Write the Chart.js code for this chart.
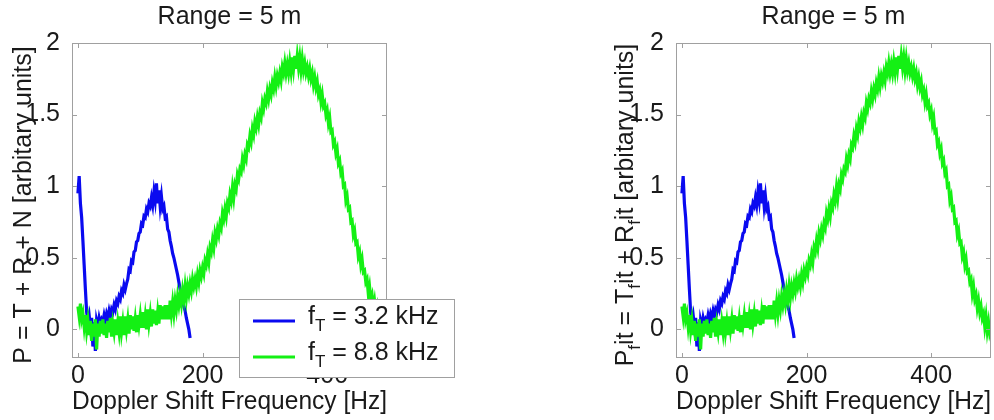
<!DOCTYPE html>
<html>
<head>
<meta charset="utf-8">
<script src="https://cdn.jsdelivr.net/npm/chart.js@4.4.1/dist/chart.umd.min.js"></script>
<style>
  html, body { margin: 0; padding: 0; background: #fff; }
  #wrap { position: relative; width: 994px; height: 420px; }
  .panel { position: absolute; top: 0; width: 497px; height: 420px; }
</style>
</head>
<body>
<div id="wrap">
  <div class="panel" style="left:0"><canvas id="leftChart"></canvas></div>
  <div class="panel" style="left:497px"><canvas id="rightChart"></canvas></div>
</div>
<script>
// spectra sampled every 2 Hz, starting at 0 Hz
const freqStep = 2;

// f_T = 3.2 kHz (0 .. 180 Hz)
const blueValues = [
  0.95, 1.07, 0.88, 0.78, 0.62, 0.45, 0.28, 0.12, 0.06, 0.10,
  0.02, 0.08, -0.12, 0.05, -0.15, 0.06, 0.02, 0.08, 0.04, 0.07,
  0.05, 0.10, 0.06, 0.11, 0.08, 0.13, 0.09, 0.14, 0.12, 0.17,
  0.14, 0.20, 0.18, 0.23, 0.21, 0.27, 0.25, 0.31, 0.28, 0.32,
  0.35, 0.42, 0.41, 0.48, 0.47, 0.54, 0.55, 0.61, 0.62, 0.67,
  0.68, 0.74, 0.73, 0.79, 0.78, 0.84, 0.82, 0.88, 0.86, 0.92,
  0.87, 0.96, 0.90, 1.02, 0.88, 0.97, 0.86, 0.93, 0.84, 0.86,
  0.78, 0.79, 0.70, 0.68, 0.62, 0.58, 0.53, 0.50, 0.46, 0.42,
  0.38, 0.33, 0.28, 0.24, 0.21, 0.16, 0.13, 0.08, 0.04, 0.00,
  -0.06
];

// f_T = 8.8 kHz (0 .. 498 Hz)
const greenValues = [
  0.16, 0.09, 0.18, 0.07, 0.11, 0.02, 0.10, -0.01, 0.06, -0.04,
  0.06, -0.08, 0.04, -0.05, 0.07, -0.14, 0.04, -0.05, 0.06, -0.03,
  0.07, -0.04, 0.04, -0.06, 0.06, -0.02, 0.08, -0.05, 0.04, -0.02,
  0.07, -0.04, 0.05, -0.02, 0.09, -0.02, 0.05, -0.04, 0.09, 0.00,
  0.07, -0.03, 0.10, 0.00, 0.09, -0.01, 0.07, -0.02, 0.10, 0.03,
  0.10, 0.01, 0.12, 0.01, 0.09, 0.00, 0.14, 0.04, 0.11, 0.02,
  0.14, 0.04, 0.13, 0.03, 0.12, 0.04, 0.17, 0.07, 0.16, 0.07,
  0.17, 0.07, 0.17, 0.07, 0.20, 0.11, 0.19, 0.11, 0.20, 0.14,
  0.23, 0.17, 0.24, 0.18, 0.27, 0.21, 0.30, 0.22, 0.30, 0.25,
  0.32, 0.27, 0.35, 0.30, 0.35, 0.30, 0.38, 0.33, 0.41, 0.37,
  0.43, 0.39, 0.48, 0.45, 0.52, 0.47, 0.57, 0.54, 0.62, 0.57,
  0.67, 0.63, 0.70, 0.66, 0.74, 0.71, 0.81, 0.77, 0.84, 0.79,
  0.88, 0.85, 0.94, 0.90, 0.99, 0.92, 1.01, 0.98, 1.08, 1.05,
  1.12, 1.10, 1.19, 1.15, 1.22, 1.19, 1.29, 1.27, 1.35, 1.31,
  1.40, 1.36, 1.45, 1.41, 1.48, 1.43, 1.51, 1.48, 1.58, 1.54,
  1.61, 1.58, 1.66, 1.61, 1.68, 1.64, 1.72, 1.68, 1.76, 1.70,
  1.77, 1.73, 1.79, 1.74, 1.83, 1.79, 1.86, 1.79, 1.85, 1.79,
  1.87, 1.80, 1.90, 1.82, 1.91, 1.82, 1.91, 1.83, 1.90, 1.81,
  1.89, 1.81, 1.86, 1.79, 1.83, 1.77, 1.82, 1.75, 1.79, 1.71,
  1.76, 1.69, 1.73, 1.64, 1.67, 1.59, 1.64, 1.56, 1.58, 1.50,
  1.53, 1.44, 1.48, 1.38, 1.39, 1.29, 1.31, 1.23, 1.26, 1.16,
  1.18, 1.09, 1.11, 1.00, 1.01, 0.90, 0.93, 0.84, 0.85, 0.75,
  0.76, 0.66, 0.69, 0.60, 0.61, 0.51, 0.54, 0.45, 0.49, 0.40,
  0.41, 0.33, 0.35, 0.25, 0.30, 0.21, 0.24, 0.15, 0.20, 0.12,
  0.16, 0.08, 0.11, 0.02, 0.09, -0.01, 0.05, -0.03, 0.00, -0.07
];

const xTicks = [0, 200, 400];
const yTicks = [0, 0.5, 1, 1.5, 2];
const legendValues = ["3.2 kHz", "8.8 kHz"];
const titleText = "Range = 5 m";
const xTitle = "Doppler Shift Frequency [Hz]";

const BLUE = "#0a0af0";
const GREEN = "#14f014";
const TEXT = "#1a1a1a";
const FRAME = "#a0a0a0";
const FAMILY = "'Liberation Sans', Arial, Helvetica, sans-serif";
const FONT_SIZE = 25;
const mainFont = FONT_SIZE + "px " + FAMILY;
const subFont = "17px " + FAMILY;

function toPoints(values) {
  return values.map((v, i) => ({ x: i * freqStep, y: v }));
}

// text made of plain / subscript pieces
function drawRich(ctx, pieces, x, y, centered) {
  let total = 0;
  pieces.forEach(p => {
    ctx.font = p.sub ? subFont : mainFont;
    p.w = ctx.measureText(p.t).width;
    total += p.w;
  });
  let pos = centered ? x - total / 2 : x;
  pieces.forEach(p => {
    ctx.font = p.sub ? subFont : mainFont;
    ctx.fillText(p.t, pos, y + (p.sub ? 7 : 0));
    pos += p.w;
  });
}

const framePlugin = {
  id: "frame",
  afterDatasetsDraw(chart) {
    const { ctx, chartArea: a, scales: { x, y } } = chart;
    ctx.save();
    ctx.strokeStyle = FRAME;
    ctx.lineWidth = 1;
    ctx.strokeRect(Math.round(a.left) + 0.5, Math.round(a.top) + 0.5,
      Math.round(a.width) - 1, Math.round(a.height) - 1);
    ctx.beginPath();
    xTicks.forEach(v => {
      const px = Math.round(x.getPixelForValue(v)) + 0.5;
      ctx.moveTo(px, a.bottom); ctx.lineTo(px, a.bottom - 5);
      ctx.moveTo(px, a.top); ctx.lineTo(px, a.top + 5);
    });
    yTicks.forEach(v => {
      const py = Math.round(y.getPixelForValue(v)) + 0.5;
      ctx.moveTo(a.left, py); ctx.lineTo(a.left + 5, py);
      ctx.moveTo(a.right, py); ctx.lineTo(a.right - 5, py);
    });
    ctx.stroke();
    ctx.restore();
  },
  afterDraw(chart, args, opts) {
    const ctx = chart.ctx;
    ctx.save();
    ctx.fillStyle = TEXT;
    ctx.textBaseline = "alphabetic";
    ctx.textAlign = "left";

    // rotated y axis label
    ctx.save();
    ctx.translate(opts.labelX, opts.labelY);
    ctx.rotate(-Math.PI / 2);
    drawRich(ctx, opts.ylabel, 0, 0, true);
    ctx.restore();

    if (opts.legend) {
      const L = opts.legend;
      ctx.fillStyle = "#fff";
      ctx.fillRect(L.x, L.y, L.w, L.h);
      ctx.strokeStyle = FRAME;
      ctx.lineWidth = 1;
      ctx.strokeRect(L.x + 0.5, L.y + 0.5, L.w, L.h);
      chart.data.datasets.forEach((ds, i) => {
        const ly = L.firstLine + i * L.rowGap;
        ctx.strokeStyle = ds.borderColor;
        ctx.lineWidth = 3;
        ctx.beginPath();
        ctx.moveTo(L.lineX0, ly);
        ctx.lineTo(L.lineX1, ly);
        ctx.stroke();
        ctx.fillStyle = TEXT;
        drawRich(ctx, [{ t: "f" }, { t: "T", sub: true }, { t: " = " + legendValues[i] }],
          L.textX, ly + 3, false);
      });
    }
    ctx.restore();
  }
};

function makeChart(id, cfg) {
  return new Chart(document.getElementById(id), {
    type: "line",
    data: {
      datasets: [
        { label: legendValues[0], data: toPoints(blueValues), borderColor: BLUE,
          borderWidth: 3.2, pointRadius: 0, tension: 0, order: 1 },
        { label: legendValues[1], data: toPoints(greenValues), borderColor: GREEN,
          borderWidth: 3.2, pointRadius: 0, tension: 0, order: 0 }
      ]
    },
    options: {
      responsive: true,
      maintainAspectRatio: false,
      animation: false,
      events: [],
      layout: { padding: { left: 0, right: cfg.padRight, top: 0, bottom: 0 } },
      plugins: {
        legend: { display: false },
        tooltip: { enabled: false },
        title: {
          display: true, text: titleText, fullSize: false, color: TEXT,
          font: { family: FAMILY, size: FONT_SIZE, weight: "normal" },
          padding: { top: 2, bottom: 11 }
        },
        frame: cfg.frame
      },
      scales: {
        x: {
          type: "linear", min: -9.5, max: 496,
          grid: { display: false }, border: { display: false },
          afterBuildTicks: s => { s.ticks = xTicks.map(v => ({ value: v })); },
          afterFit: s => { s.height = 62; },
          ticks: { color: TEXT, font: { family: FAMILY, size: FONT_SIZE }, padding: -5,
            maxRotation: 0, autoSkip: false, callback: v => String(v) },
          title: { display: true, text: xTitle, color: TEXT,
            font: { family: FAMILY, size: FONT_SIZE }, padding: { top: 0, bottom: 3 } }
        },
        y: {
          min: -0.2, max: 2,
          grid: { display: false }, border: { display: false },
          afterBuildTicks: s => { s.ticks = yTicks.map(v => ({ value: v })); },
          afterFit: s => { s.width = cfg.yWidth; },
          ticks: { color: TEXT, font: { family: FAMILY, size: FONT_SIZE }, padding: 4,
            autoSkip: false, callback: v => String(v) }
        }
      }
    },
    plugins: [framePlugin]
  });
}

document.addEventListener("DOMContentLoaded", function () {
  makeChart("leftChart", {
    padRight: 110, yWidth: 72,
    frame: {
      labelX: 31, labelY: 205,
      ylabel: [{ t: "P = T + R + N [arbitary units]" }],
      legend: { x: 239, y: 299, w: 215, h: 78, lineX0: 253, lineX1: 295,
        firstLine: 321, rowGap: 36, textX: 308 }
    }
  });
  makeChart("rightChart", {
    padRight: 3, yWidth: 179,
    frame: {
      labelX: 136, labelY: 205,
      ylabel: [
        { t: "P" }, { t: "f", sub: true }, { t: "it = T" }, { t: "f", sub: true },
        { t: "it + R" }, { t: "f", sub: true }, { t: "it [arbitary units]" }
      ],
      legend: null
    }
  });
});
</script>
</body>
</html>
